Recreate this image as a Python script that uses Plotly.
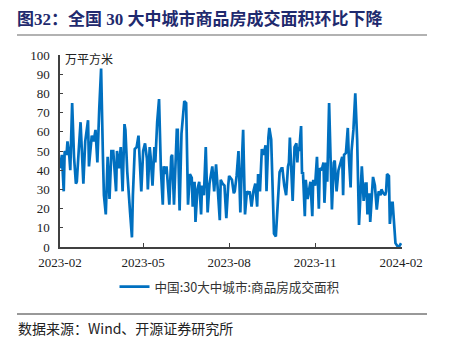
import plotly.graph_objects as go

# 30大中城市商品房成交面积（万平方米）
dates = [
    "2023-02-01", "2023-02-03", "2023-02-05", "2023-02-06", "2023-02-08", "2023-02-09",
    "2023-02-11", "2023-02-12", "2023-02-14", "2023-02-16", "2023-02-18", "2023-02-19",
    "2023-02-21", "2023-02-23", "2023-02-26", "2023-02-28", "2023-03-03", "2023-03-04",
    "2023-03-07", "2023-03-09", "2023-03-11", "2023-03-13", "2023-03-15", "2023-03-17",
    "2023-03-19", "2023-03-20", "2023-03-22", "2023-03-24", "2023-03-26", "2023-03-28",
    "2023-03-30", "2023-04-02", "2023-04-03", "2023-04-05", "2023-04-07", "2023-04-09",
    "2023-04-11", "2023-04-12", "2023-04-14", "2023-04-15", "2023-04-17", "2023-04-19",
    "2023-04-20", "2023-04-22", "2023-04-24", "2023-04-26", "2023-04-28", "2023-04-29",
    "2023-05-01", "2023-05-03", "2023-05-05", "2023-05-06", "2023-05-08", "2023-05-09",
    "2023-05-11", "2023-05-13", "2023-05-14", "2023-05-16", "2023-05-18", "2023-05-20",
    "2023-05-22", "2023-05-23", "2023-05-25", "2023-05-26", "2023-05-29", "2023-05-31",
    "2023-06-01", "2023-06-03", "2023-06-06", "2023-06-07", "2023-06-09", "2023-06-11",
    "2023-06-14", "2023-06-16", "2023-06-18", "2023-06-20", "2023-06-22", "2023-06-23",
    "2023-06-25", "2023-06-26", "2023-06-28", "2023-06-30", "2023-07-02", "2023-07-03",
    "2023-07-05", "2023-07-07", "2023-07-09", "2023-07-11", "2023-07-13", "2023-07-14",
    "2023-07-16", "2023-07-18", "2023-07-20", "2023-07-22", "2023-07-23", "2023-07-25",
    "2023-07-27", "2023-07-29", "2023-07-31", "2023-08-01", "2023-08-04", "2023-08-06",
    "2023-08-07", "2023-08-09", "2023-08-11", "2023-08-13", "2023-08-15", "2023-08-16",
    "2023-08-18", "2023-08-20", "2023-08-22", "2023-08-23", "2023-08-25", "2023-08-27",
    "2023-08-29", "2023-08-31", "2023-09-01", "2023-09-03", "2023-09-05", "2023-09-07",
    "2023-09-09", "2023-09-10", "2023-09-12", "2023-09-13", "2023-09-15", "2023-09-17",
    "2023-09-18", "2023-09-20", "2023-09-22", "2023-09-24", "2023-09-26", "2023-09-27",
    "2023-09-29", "2023-10-01", "2023-10-03", "2023-10-04", "2023-10-05", "2023-10-07",
    "2023-10-08", "2023-10-10", "2023-10-12", "2023-10-13", "2023-10-14", "2023-10-15",
    "2023-10-17", "2023-10-18", "2023-10-19", "2023-10-21", "2023-10-22", "2023-10-24",
    "2023-10-26", "2023-10-27", "2023-10-29", "2023-10-30", "2023-11-01", "2023-11-03",
    "2023-11-05", "2023-11-06", "2023-11-08", "2023-11-10", "2023-11-11", "2023-11-13",
    "2023-11-14", "2023-11-16", "2023-11-19", "2023-11-21", "2023-11-22", "2023-11-24",
    "2023-11-26", "2023-11-28", "2023-11-30", "2023-12-01", "2023-12-02", "2023-12-04",
    "2023-12-06", "2023-12-07", "2023-12-09", "2023-12-10", "2023-12-12", "2023-12-14",
    "2023-12-16", "2023-12-18", "2023-12-20", "2023-12-21", "2023-12-23", "2023-12-25",
    "2023-12-26", "2023-12-27", "2023-12-29", "2023-12-30", "2024-01-01", "2024-01-02",
    "2024-01-04", "2024-01-06", "2024-01-08", "2024-01-10", "2024-01-11", "2024-01-13",
    "2024-01-15", "2024-01-16", "2024-01-17", "2024-01-19", "2024-01-20", "2024-01-22",
    "2024-01-23", "2024-01-25", "2024-01-26", "2024-01-28", "2024-01-30", "2024-02-01",
]

area = [
    41, 48, 29, 50, 48, 55,
    47, 40, 75, 47, 33, 34,
    50, 65, 33, 55, 66, 42,
    58, 55, 61, 44, 72, 93,
    46, 27, 17, 47, 25, 50,
    50, 29, 50, 41, 52, 29,
    64, 61, 39, 30, 18, 5,
    27, 51, 52, 58, 41, 29,
    50, 54, 46, 30, 52, 47,
    32, 52, 44, 65, 77, 40,
    22, 42, 38, 42, 22, 47,
    48, 22, 61, 61, 19, 59,
    76, 75, 22, 38, 36, 21,
    34, 13, 30, 34, 17, 32,
    27, 52, 18, 33, 39, 42,
    29, 43, 29, 14, 35, 33,
    32, 15, 32, 37, 35, 28,
    29, 37, 50, 18, 49, 61,
    17, 29, 28, 29, 21, 29,
    33, 21, 38, 29, 51, 48,
    53, 29, 57, 62, 56, 27,
    7, 5.5, 21, 39, 41, 41,
    32, 27, 42, 44, 57, 36,
    24, 52, 54, 44, 52, 50,
    63, 38, 39, 16, 35, 25,
    33, 34, 16, 35, 32, 47,
    20, 41, 40, 44, 23, 44,
    34, 75, 19.5, 44, 45, 29,
    40, 44, 47, 27, 48, 49,
    62, 48, 31, 50, 61, 80,
    56, 11.5, 33, 42, 24, 33,
    33, 17, 28, 13, 29, 36.5,
    32, 19.5, 29, 27, 30, 28,
    27, 29, 38, 37, 12, 23,
    23, 10.5, 2, 0.5, 0.3, 2,
]

x_ticks = ["2023-02-01", "2023-05-01", "2023-08-01", "2023-11-01", "2024-02-01"]
x_tick_text = ["2023-02", "2023-05", "2023-08", "2023-11", "2024-02"]
y_ticks = list(range(0, 101, 10))

series_name = "中国:30大中城市:商品房成交面积"
title_text = "图32：全国 30 大中城市商品房成交面积环比下降"
unit_text = "万平方米"
source_text = "数据来源：Wind、开源证券研究所"

BLUE = "#0070C0"
NAVY = "#1F2A6E"
AXIS = "#404040"
SERIF = "Liberation Serif, Noto Sans CJK SC, serif"
CJK = "Noto Sans CJK SC, sans-serif"

W, H = 449, 342
L, R, T, B = 60, 47, 55, 95
pw, ph = W - L - R, H - T - B


def px(xp):
    return (xp - L) / pw


def py(yp):
    return (H - B - yp) / ph


fig = go.Figure()
fig.add_trace(go.Scatter(
    x=dates, y=area, mode="lines", name=series_name,
    line=dict(color=BLUE, width=2.7),
))

fig.update_layout(
    width=W, height=H,
    margin=dict(l=L, r=R, t=T, b=B),
    paper_bgcolor="white", plot_bgcolor="white",
    showlegend=True,
    title=dict(
        text=f"<b>{title_text}</b>",
        x=17 / W, xanchor="left", xref="container",
        y=1 - 19 / H, yanchor="middle", yref="container",
        font=dict(family=SERIF, size=17, color=NAVY),
    ),
    legend=dict(
        orientation="h", x=px(230), xanchor="center",
        y=py(287), yanchor="middle",
        font=dict(family=CJK, size=12.6, color="#333333"),
        itemwidth=30, bgcolor="rgba(0,0,0,0)",
    ),
    xaxis=dict(
        type="date", range=["2023-02-01", "2024-02-02"],
        tickvals=x_ticks, ticktext=x_tick_text,
        ticks="inside", ticklen=4, tickcolor=AXIS,
        showline=True, linecolor=AXIS, linewidth=1.5,
        showgrid=False, zeroline=False, ticklabelstandoff=3,
        tickfont=dict(family=SERIF, size=13, color="#222222"),
    ),
    yaxis=dict(
        range=[0, 100], tickvals=y_ticks,
        ticks="inside", ticklen=3, tickcolor=AXIS,
        showline=True, linecolor=AXIS, linewidth=1.5,
        showgrid=False, zeroline=False, ticklabelstandoff=6,
        tickfont=dict(family=SERIF, size=13, color="#222222"),
    ),
    annotations=[
        dict(text=unit_text, x=px(63), y=py(58), xref="paper", yref="paper",
             xanchor="left", yanchor="middle", showarrow=False,
             font=dict(family=CJK, size=12, color="#222222")),
        dict(text=source_text, x=px(16), y=py(328), xref="paper", yref="paper",
             xanchor="left", yanchor="middle", showarrow=False,
             font=dict(family=CJK, size=14, color="#222222")),
    ],
    shapes=[
        dict(type="line", xref="paper", yref="paper",
             x0=px(17), x1=px(427), y0=py(35), y1=py(35),
             line=dict(color="#666666", width=1.2)),
        dict(type="line", xref="paper", yref="paper",
             x0=px(17), x1=px(427), y0=py(314), y1=py(314),
             line=dict(color="#333333", width=1)),
    ],
)

fig.write_html("out.html")
